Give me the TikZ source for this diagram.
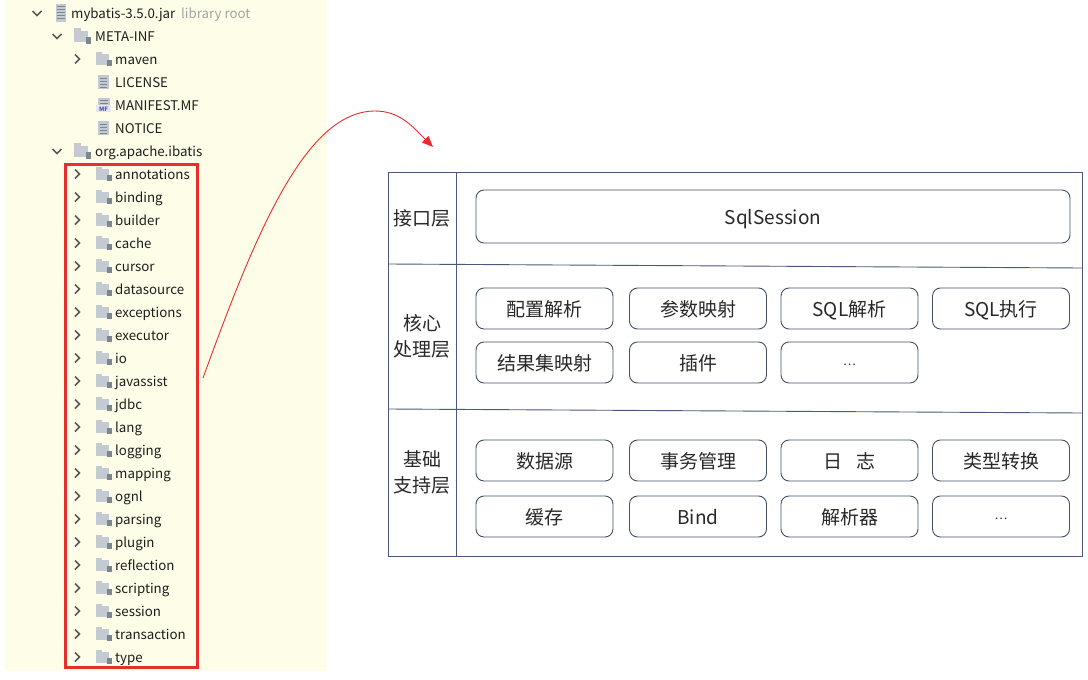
\documentclass[tikz,border=0pt]{standalone}
\usepackage{fontspec}
\setmainfont{Noto Sans CJK SC}
\usetikzlibrary{arrows.meta}
\definecolor{panelbg}{RGB}{253,253,232}
\definecolor{treetext}{RGB}{30,30,30}
\definecolor{rootgray}{RGB}{165,165,165}
\definecolor{chev}{RGB}{90,90,90}
\definecolor{foldlight}{RGB}{196,202,210}
\definecolor{folddark}{RGB}{125,133,143}
\definecolor{hl}{RGB}{232,45,45}
\definecolor{frameline}{RGB}{75,90,120}
\definecolor{boxline}{RGB}{70,80,100}
\definecolor{boxtext}{RGB}{40,40,40}
\definecolor{mfblue}{RGB}{80,80,170}

\newcommand\myfolder[3]{% x, y, size
  \fill[foldlight] (#1,#2-#3*0.45) rectangle (#1+#3*0.4,#2-#3*0.3);
  \fill[foldlight] (#1,#2-#3*0.32) rectangle (#1+#3*0.8,#2+#3*0.38);
  \fill[folddark] (#1+#3*0.68,#2+#3*0.05) rectangle (#1+#3,#2+#3*0.45);
}
\newcommand\myfile[2]{% x, y
  \fill[foldlight] (#1,#2-7) rectangle (#1+11,#2+7);
  \foreach \k in {-4,-1,2,5} {\draw[folddark, line width=1pt] (#1+2,#2+\k) -- (#1+9,#2+\k);}
}
\newcommand\chevright[2]{\draw[chev, line width=1.5pt] (#1-2,#2-4.5) -- (#1+2.5,#2) -- (#1-2,#2+4.5);}
\newcommand\chevdown[2]{\draw[chev, line width=1.5pt] (#1-4.5,#2-2) -- (#1,#2+2.5) -- (#1+4.5,#2-2);}

\begin{document}
\begin{tikzpicture}[x=1pt,y=-1pt,
  treelbl/.style={anchor=base west, inner sep=0pt, font=\fontsize{13.3}{16}\selectfont, text=treetext},
  rbox/.style={draw=boxline, rounded corners=8pt, line width=0.9pt, minimum width=137pt, minimum height=41pt, inner sep=0pt, text height=18pt, text depth=3pt, font=\fontsize{19}{22}\selectfont, text=boxtext},
  layerlbl/.style={inner sep=0pt, align=center, font=\fontsize{19}{26}\selectfont, text=boxtext},
  frame/.style={draw=frameline, line width=0.9pt},
  dots/.style={font=\fontsize{12}{12}\selectfont}
]
\useasboundingbox (0,0) rectangle (1088,680);
\fill[white] (0,0) rectangle (1088,680);
% left panel
\fill[panelbg] (5,0) rectangle (327,671);

% row 0 : jar
\chevdown{37}{13}
\fill[foldlight] (56,4) rectangle (66,22);
\foreach \k in {6,9,12,15,18} {\draw[folddark, line width=1pt] (57,\k) -- (65,\k);}
\node[treelbl] (jar) at (71,18.5) {mybatis-3.5.0.jar};
\node[treelbl, text=rootgray] (root) at (181,18.5) {library root};
% row 1 : META-INF
\chevdown{57}{36}
\myfolder{74}{36}{17}
\node[treelbl] (meta) at (95,41.5) {META-INF};
% row 2 : maven
\chevright{77}{59}
\myfolder{96}{59}{16}
\node[treelbl] (maven) at (115,64.5) {maven};
% row 3-5 : files
\myfile{98}{82}
\node[treelbl] (license) at (115,87.5) {LICENSE};
\fill[foldlight] (98,98) rectangle (110,112);
\foreach \k in {100,103} {\draw[folddark, line width=1pt] (100,\k) -- (108,\k);}
\fill[white!85!mfblue] (96,105) rectangle (111,112);
\node[inner sep=0pt, font=\fontsize{6}{6}\selectfont\bfseries, text=mfblue] (mficon) at (103.5,108.8) {MF};
\node[treelbl] (manifest) at (115,110.5) {MANIFEST.MF};
\myfile{98}{128}
\node[treelbl] (notice) at (115,133.5) {NOTICE};
% row 6 : org.apache.ibatis
\chevdown{57}{151}
\myfolder{74}{151}{17}
\node[treelbl] (org) at (95,156.5) {org.apache.ibatis};
% packages
\foreach \n [count=\i from 7] in {annotations,binding,builder,cache,cursor,datasource,exceptions,executor,io,javassist,jdbc,lang,logging,mapping,ognl,parsing,plugin,reflection,scripting,session,transaction,type} {
  \pgfmathsetmacro\yy{13+23*\i}
  \chevright{77}{\yy}
  \myfolder{96}{\yy}{16}
  \node[treelbl] (pkg-\n) at (115,\yy+5.5) {\n};
}
% red highlight
\node[draw=hl, line width=3pt, minimum width=132pt, minimum height=503pt, inner sep=0pt] (pkgbox) at (131,416) {};

% connector
\coordinate (cstart) at (203,378);
\coordinate (capex) at (375,111);
\coordinate (cend) at (433,147);
\draw[hl, line width=0.9pt, -{Triangle[length=11pt,width=9pt]}] (cstart) .. controls (255,235) and (305,111) .. (capex) .. controls (400,111) and (413,127) .. (cend);

% right diagram frame
\node[frame, minimum width=694pt, minimum height=383.5pt, inner sep=0pt] (frm) at (735,364.25) {};
\draw[frame] (456,172.5) -- (456,556);
\draw[frame] (388,264) -- (1082,268);
\draw[frame] (388,409) -- (1082,413);

% layer labels
\node[layerlbl] (l1) at (422,218) {接口层};
\node[layerlbl] (l2) at (422,336) {核心\\处理层};
\node[layerlbl] (l3) at (422,472) {基础\\支持层};

% interface layer
\node[rbox, minimum width=594pt, minimum height=53pt] (sqls) at (773,216.5) {SqlSession};
% core layer
\node[rbox] (c1) at (544.5,308.5) {配置解析};
\node[rbox] (c2) at (698,308.5) {参数映射};
\node[rbox] (c3) at (849.5,308.5) {SQL解析};
\node[rbox] (c4) at (1001,308.5) {SQL执行};
\node[rbox] (c5) at (544.5,362.5) {结果集映射};
\node[rbox] (c6) at (698,362.5) {插件};
\node[rbox] (c7) at (849.5,362.5) {\raisebox{5pt}{\fontsize{12}{12}\selectfont …}};
% base layer
\node[rbox] (b1) at (544.5,460.5) {数据源};
\node[rbox] (b2) at (698,460.5) {事务管理};
\node[rbox] (b3) at (849.5,460.5) {日\hspace{0.7em}志};
\node[rbox] (b4) at (1001,460.5) {类型转换};
\node[rbox] (b5) at (544.5,516.5) {缓存};
\node[rbox] (b6) at (698,516.5) {Bind};
\node[rbox] (b7) at (849.5,516.5) {解析器};
\node[rbox] (b8) at (1001,516.5) {\raisebox{5pt}{\fontsize{12}{12}\selectfont …}};
\end{tikzpicture}
\end{document}
